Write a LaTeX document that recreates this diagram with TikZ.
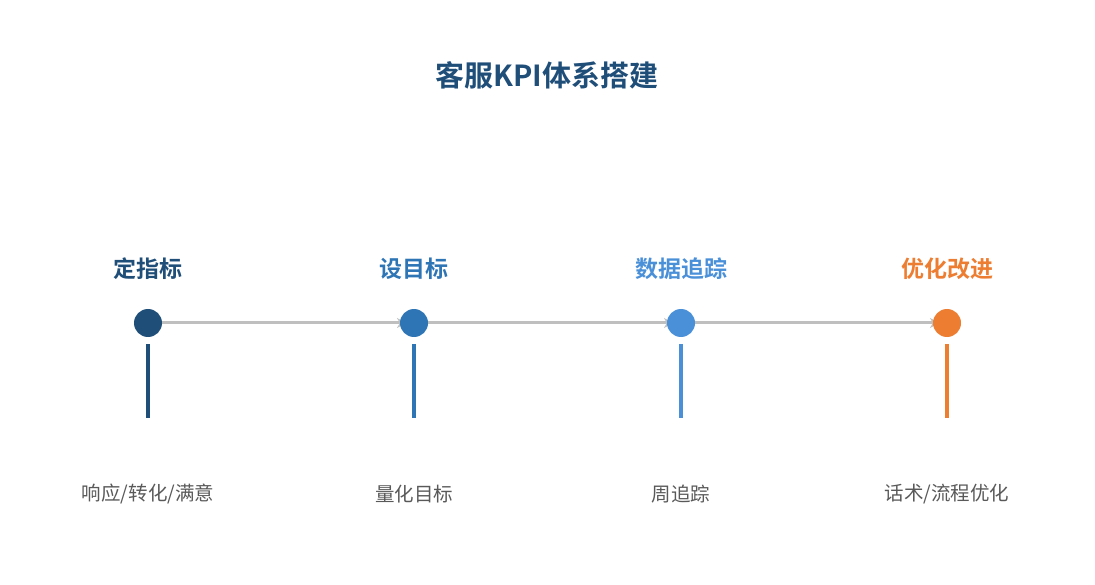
\documentclass[tikz,border=0pt]{standalone}
\usepackage{fontspec}
\usepackage{tikz}
\usetikzlibrary{positioning,
        arrows.meta}
\usepackage{xcolor}
\newfontfamily\cjk{Noto Sans CJK SC}
\newfontfamily\cjkbold{Noto Sans CJK SC Bold}

\definecolor{kpiA}{HTML}{1F4E79}
\definecolor{kpiB}{HTML}{2E75B6}
\definecolor{kpiC}{HTML}{4A90D9}
\definecolor{kpiD}{HTML}{ED7D31}
\definecolor{flowgray}{HTML}{BFBFBF}
\definecolor{notegray}{HTML}{595959}

\begin{document}
\begin{tikzpicture}[x=1pt,y=-1pt,
        dot/.style={circle,fill=#1,minimum size=28pt,inner sep=0pt},
        phase/.style={text=#1,font=\cjkbold\fontsize{23}{26}\selectfont},
        note/.style={text=notegray,font=\cjk\fontsize{19.5}{22}\selectfont},
        flow/.style={draw=flowgray,line width=3pt,-{Stealth[length=9pt,width=10pt]}},
        stem/.style={draw=#1,line width=4pt}]
        \useasboundingbox (0,0) rectangle (1095,585);

        \node [text=kpiA,font=\cjkbold\fontsize{29}{32}\selectfont] (title) at (547,75) {客服KPI体系搭建};

        \node [phase=kpiA] (p1) at (148,269) {定指标};
        \node [phase=kpiB] (p2) at (414,269) {设目标};
        \node [phase=kpiC] (p3) at (681,269) {数据追踪};
        \node [phase=kpiD] (p4) at (947,269) {优化改进};

        \coordinate (d1) at (148,323);
        \coordinate (d2) at (414,323);
        \coordinate (d3) at (681,323);
        \coordinate (d4) at (947,323);

        \draw [flow,shorten >=8pt] (d1) -- (d2);
        \draw [flow,shorten >=8pt] (d2) -- (d3);
        \draw [flow,shorten >=8pt] (d3) -- (d4);

        \node [dot=kpiA] (s1) at (d1) {};
        \node [dot=kpiB] (s2) at (d2) {};
        \node [dot=kpiC] (s3) at (d3) {};
        \node [dot=kpiD] (s4) at (d4) {};

        \coordinate (t1) at (148,344);
        \coordinate (t2) at (414,344);
        \coordinate (t3) at (681,344);
        \coordinate (t4) at (947,344);
        \coordinate (b1) at (148,418);
        \coordinate (b2) at (414,418);
        \coordinate (b3) at (681,418);
        \coordinate (b4) at (947,418);

        \draw [stem=kpiA] (t1) -- (b1);
        \draw [stem=kpiB] (t2) -- (b2);
        \draw [stem=kpiC] (t3) -- (b3);
        \draw [stem=kpiD] (t4) -- (b4);

        \node [note] (n1) at (148,494) {响应/转化/满意};
        \node [note] (n2) at (414,494) {量化目标};
        \node [note] (n3) at (681,494) {周追踪};
        \node [note] (n4) at (947,494) {话术/流程优化};
    \end{tikzpicture}
\end{document}
